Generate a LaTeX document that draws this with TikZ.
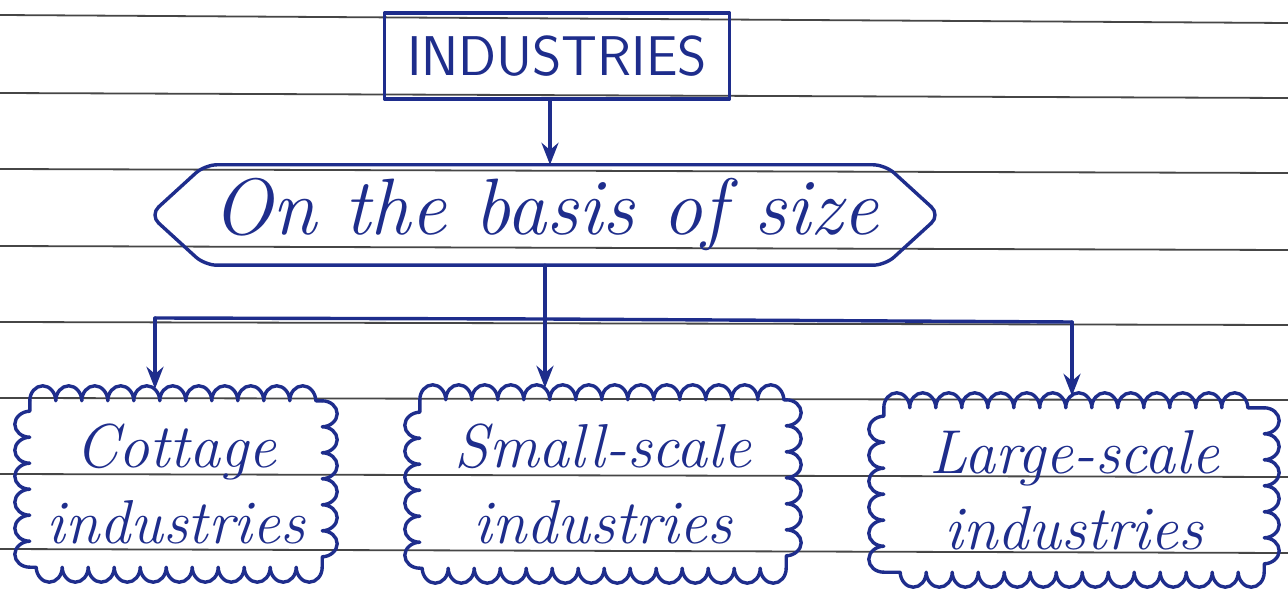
\documentclass[tikz,border=0pt]{standalone}
\usepackage{fontspec}
\usetikzlibrary{arrows.meta,decorations.pathmorphing,calc}
\definecolor{ink}{RGB}{30,45,140}
\definecolor{rule}{RGB}{70,70,70}
\begin{document}
\begin{tikzpicture}[x=1pt,y=-1pt,
  inkline/.style={draw=ink,line width=3.4pt,line join=round,line cap=round},
  arr/.style={inkline,-{Stealth[length=22pt,width=17pt]}},
  ruled/.style={draw=rule,line width=1.8pt},
  titlebox/.style={inkline,rectangle,minimum width=345pt,minimum height=86pt,
     font=\sffamily\fontsize{56}{60}\selectfont,text=ink},
  basistext/.style={rectangle,minimum width=680pt,minimum height=100pt,
     font=\itshape\fontsize{80}{84}\selectfont,text=ink},
  cloudbox/.style={rectangle,align=center,text=ink,
     font=\itshape\fontsize{62}{76}\selectfont},
  scallop/.style={inkline,decorate,decoration={bumps,segment length=52pt,amplitude=15pt}}
]
\useasboundingbox[fill=white] (0,0) rectangle (1288,596);
% ruled notebook lines
\foreach \a/\b in {15/23,93/98,169/173,246/250,322/325,398/400,474/477,549/553}
  \draw[ruled] (0,\a) -- (1288,\b);
% nodes
\node[titlebox] (ind) at (557,56) {INDUSTRIES};
\node[basistext] (basis) at (545,215) {On the basis of size};
\draw[inkline,rounded corners=12pt]
  ([xshift=-55pt]basis.west) -- (basis.north west) -- (basis.north east)
  -- ([xshift=55pt]basis.east) -- (basis.south east) -- (basis.south west) -- cycle;
\node[cloudbox,minimum width=292pt,minimum height=166pt] (cot) at (176,484) {Cottage\\industries};
\node[cloudbox,minimum width=366pt,minimum height=168pt] (small) at (603,484) {Small-scale\\industries};
\node[cloudbox,minimum width=380pt,minimum height=164pt] (large) at (1074,490) {Large-scale\\industries};
\foreach \n in {cot,small,large}{
  \draw[scallop] (\n.south west) -- (\n.north west);
  \draw[scallop] (\n.north west) -- (\n.north east);
  \draw[scallop] (\n.north east) -- (\n.south east);
  \draw[scallop] (\n.south east) -- (\n.south west);
}
% connectors
\coordinate (j1) at (155,318);
\coordinate (j2) at (basis.south |- 0,319);
\coordinate (j3) at (1072,322);
\draw[arr] (ind.south -| 550,0) -- (550,0 |- basis.north);
\draw[inkline] (basis.south) -- (j2);
\draw[inkline] (j1) -- (j2) -- (j3);
\draw[arr] (j1) -- ([yshift=12pt]j1 |- cot.north);
\draw[arr] (j2) -- ([yshift=12pt]j2 |- small.north);
\draw[arr] (j3) -- ([yshift=12pt]j3 |- large.north);
\end{tikzpicture}
\end{document}
